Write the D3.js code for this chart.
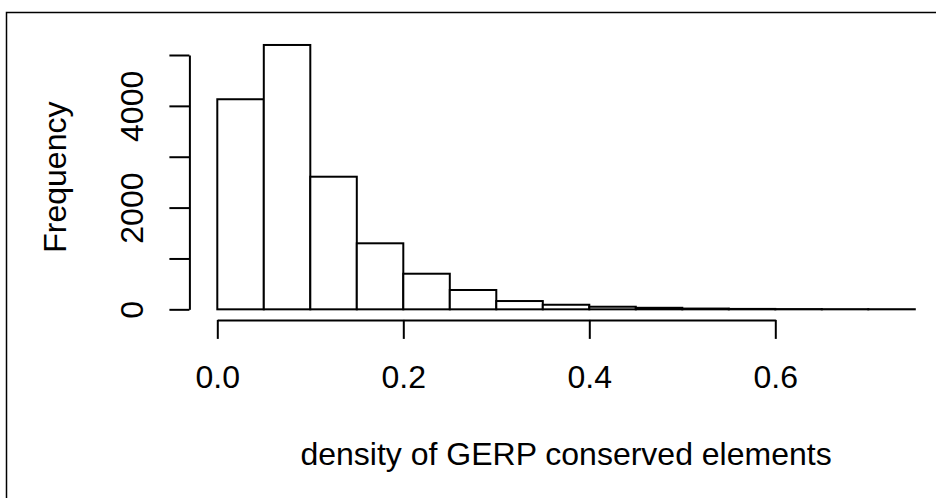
<!DOCTYPE html>
<html>
<head>
<meta charset="utf-8">
<script src="https://cdn.jsdelivr.net/npm/d3@7"></script>
<style>
  body { margin: 0; background: #fff; }
  text { font-family: "Liberation Sans", Arial, sans-serif; fill: #000; }
</style>
</head>
<body>
<script>
// histogram breaks and counts
const breaks = [0, 0.05, 0.1, 0.15, 0.2, 0.25, 0.3, 0.35, 0.4, 0.45, 0.5, 0.55, 0.6, 0.65, 0.7, 0.75];
const counts = [4130, 5197, 2607, 1298, 700, 380, 163, 90, 51, 30, 15, 8, 5, 3, 2];
const xTicks = [0, 0.2, 0.4, 0.6];
const yTicks = [0, 1000, 2000, 3000, 4000, 5000];
const yLabels = [0, 2000, 4000];

const width = 936, height = 498;

const bins = counts.map((c, i) => ({ x0: breaks[i], x1: breaks[i + 1], count: c }));

const svg = d3.select('body').append('svg')
  .attr('width', width)
  .attr('height', height);

// outer frame
svg.append('rect')
  .attr('x', 6.5).attr('y', 12.5)
  .attr('width', 1000).attr('height', 600)
  .attr('fill', 'none')
  .attr('stroke', '#000')
  .attr('stroke-width', 1.5);

// R style: limits extended by 4%
const xmin = breaks[0], xmax = breaks[breaks.length - 1];
const xpad = (xmax - xmin) * 0.04;
const x = d3.scaleLinear()
  .domain([xmin - xpad, xmax + xpad])
  .range([189.4, 942.7]);

const ymax = d3.max(counts);
const y = d3.scaleLinear()
  .domain([-ymax * 0.04, ymax * 1.04])
  .range([319.9, 34.4]);

// bars
svg.selectAll('rect.bar')
  .data(bins)
  .enter()
  .append('rect')
  .attr('class', 'bar')
  .attr('x', d => x(d.x0))
  .attr('y', d => y(d.count))
  .attr('width', d => x(d.x1) - x(d.x0))
  .attr('height', d => y(0) - y(d.count))
  .attr('fill', '#fff')
  .attr('stroke', '#000')
  .attr('stroke-width', 2);

// x axis, drawn only from first to last tick like R
const xAxisScale = d3.scaleLinear()
  .domain([xTicks[0], xTicks[xTicks.length - 1]])
  .range([x(xTicks[0]), x(xTicks[xTicks.length - 1])]);

const gx = svg.append('g')
  .attr('transform', `translate(0, ${y.range()[0]})`)
  .call(d3.axisBottom(xAxisScale)
    .tickValues(xTicks)
    .tickSize(19)
    .tickSizeOuter(0)
    .tickPadding(4)
    .tickFormat(d3.format('.1f')));

gx.selectAll('path, line').attr('stroke', '#000').attr('stroke-width', 2);
gx.selectAll('text')
  .attr('y', 68)
  .attr('dy', null)
  .style('font-size', '32px')
  .style('font-family', '"Liberation Sans", Arial, sans-serif')
  .attr('fill', '#000');

// y axis
const yAxisScale = d3.scaleLinear()
  .domain([yTicks[0], yTicks[yTicks.length - 1]])
  .range([y(yTicks[0]), y(yTicks[yTicks.length - 1])]);

const gy = svg.append('g')
  .attr('transform', `translate(${x.range()[0]}, 0)`)
  .call(d3.axisLeft(yAxisScale)
    .tickValues(yTicks)
    .tickSize(20)
    .tickSizeOuter(0)
    .tickFormat(d => yLabels.includes(d) ? d : ''));

gy.selectAll('path, line').attr('stroke', '#000').attr('stroke-width', 2);
gy.selectAll('text')
  .attr('x', null)
  .attr('dy', null)
  .attr('transform', 'translate(-46, 0) rotate(-90)')
  .attr('text-anchor', 'middle')
  .style('font-size', '32px')
  .style('font-family', '"Liberation Sans", Arial, sans-serif')
  .attr('fill', '#000');

// axis titles
svg.append('text')
  .attr('x', (x.range()[0] + x.range()[1]) / 2)
  .attr('y', 465)
  .attr('text-anchor', 'middle')
  .style('font-size', '32px')
  .text('density of GERP conserved elements');

svg.append('text')
  .attr('transform', `translate(66, ${(y.range()[0] + y.range()[1]) / 2}) rotate(-90)`)
  .attr('text-anchor', 'middle')
  .style('font-size', '32px')
  .text('Frequency');
</script>
</body>
</html>
